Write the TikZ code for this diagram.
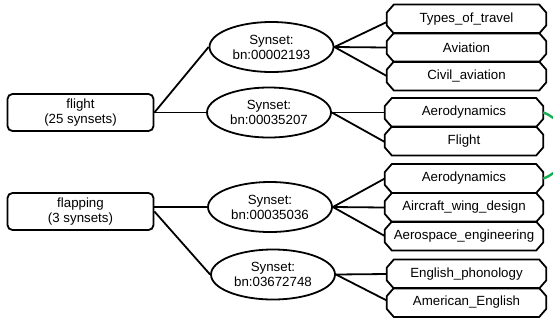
\documentclass[tikz,border=0pt]{standalone}
\usepackage{fontspec}
\setmainfont{Liberation Sans}
\usetikzlibrary{shapes.geometric,calc}
\definecolor{linkgreen}{RGB}{20,175,80}
\begin{document}
\begin{tikzpicture}[x=1pt,y=-1pt,
  every node/.style={font=\fontsize{13.3}{15}\selectfont, inner sep=0pt},
  wordbox/.style={draw, line width=1.8pt, rounded corners=5pt, minimum width=146pt, minimum height=37pt, align=center},
  synbox/.style={draw, ellipse, line width=1.8pt, minimum width=124pt, minimum height=50pt, align=center},
  catbox/.style={minimum width=158pt, minimum height=28.5pt},
  link/.style={line width=1.8pt},
  outline/.style={line width=1.8pt, line join=miter}]
\useasboundingbox (0,0) rectangle (553,322);
\clip (0,0) rectangle (553,322);

% left word boxes
\node[wordbox] (flight) at (80.5,112.5) {flight\\(25 synsets)};
\node[wordbox] (flapping) at (80.5,211.5) {flapping\\(3 synsets)};

% synsets
\node[synbox] (s1) at (271.5,47) {Synset:\\bn:00002193};
\node[synbox] (s2) at (269,112.5) {Synset:\\bn:00035207};
\node[synbox] (s3) at (270,207) {Synset:\\bn:00035036};
\node[synbox] (s4) at (273,274.5) {Synset:\\bn:03672748};

% category boxes
\node[catbox, minimum width=159pt] (c1) at (466.5,19) {Types\_of\_travel};
\node[catbox, minimum width=159pt] (c2) at (466.5,47.5) {Aviation};
\node[catbox, minimum width=159pt] (c3) at (466.5,76) {Civil\_aviation};
\node[catbox] (c4) at (464,112.5) {Aerodynamics};
\node[catbox] (c5) at (464,141) {Flight};
\node[catbox] (c6) at (464,178.5) {Aerodynamics};
\node[catbox] (c7) at (464,207.5) {Aircraft\_wing\_design};
\node[catbox] (c8) at (464,236) {Aerospace\_engineering};
\node[catbox, minimum width=159pt] (c9) at (466.5,274) {English\_phonology};
\node[catbox, minimum width=159pt] (c10) at (466.5,302.5) {American\_English};

\foreach \n in {c1,c2,c3,c4,c5,c6,c7,c8,c9,c10}
  \draw[outline] ($(\n.north west)+(7,0)$) -- ($(\n.north east)+(-7,0)$)
    -- ($(\n.north east)+(0,8)$) -- ($(\n.south east)+(0,-8)$)
    -- ($(\n.south east)+(-7,0)$) -- ($(\n.south west)+(7,0)$)
    -- ($(\n.south west)+(0,-8)$) -- ($(\n.north west)+(0,8)$) -- cycle;

% connectors word -> synset
\draw[link] (flight.east) -- (s1.west);
\draw[link] (flight.east |- s2.west) -- (s2.west);
\draw[link] (flapping.east |- s3.west) -- (s3.west);
\draw[link] (flapping.east) -- (s4.west);

% connectors synset -> category
\draw[link] (s1.east) -- ($(c1.west)+(0,3)$);
\draw[link] (s1.east) -- (c2.west);
\draw[link] (s1.east) -- (c3.west);
\draw[link] (s2.east) -- (c4.west);
\draw[link] (s2.east) -- ($(c5.west)+(0,1)$);
\draw[link] (s3.east) -- (c6.west);
\draw[link] (s3.east) -- (c7.west);
\draw[link] (s3.east) -- (c8.west);
\draw[link] (s4.east) -- (c9.west);
\draw[link] (s4.east) -- ($(c10.west)+(0,-2)$);

% green link between the two Aerodynamics boxes
\draw[linkgreen, line width=2.4pt] (c4.east) .. controls +(30,10) and +(30,-10) .. (c6.east);
\end{tikzpicture}
\end{document}
